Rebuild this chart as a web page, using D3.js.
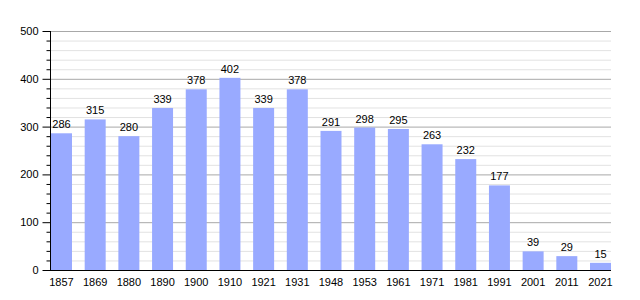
<!DOCTYPE html>
<html><head><meta charset="utf-8">
<script src="https://cdn.jsdelivr.net/npm/d3@7"></script>
<style>body{margin:0;background:#fff}svg{display:block}text{font-family:"Liberation Sans",Arial,sans-serif;font-size:11px;fill:#000}</style>
</head><body><svg width="640" height="300"></svg>
<script>
const years = ["1857","1869","1880","1890","1900","1910","1921","1931","1948","1953","1961","1971","1981","1991","2001","2011","2021"];
const population = [286,315,280,339,378,402,339,378,291,298,295,263,232,177,39,29,15];
const yTicks = [0,100,200,300,400,500];

const svg = d3.select("svg");
const x0 = 50, x1 = 611, yTop = 31, yBot = 270;
const x = d3.scaleBand().domain(years).range([51, 611]).paddingInner(0.377).paddingOuter(0);
const y = d3.scaleLinear().domain([0, 500]).range([yBot, yTop]);

const minor = d3.range(0, 501, 20).filter(v => v % 100 !== 0);
svg.append("g").selectAll("line").data(minor).join("line")
  .attr("x1", x0).attr("x2", x1).attr("y1", d => y(d) + 0.5).attr("y2", d => y(d) + 0.5)
  .attr("stroke", "#e2e2e2").attr("stroke-width", 1);
svg.append("g").selectAll("line").data(yTicks.filter(v => v > 0)).join("line")
  .attr("x1", x0).attr("x2", x1).attr("y1", d => y(d) + 0.5).attr("y2", d => y(d) + 0.5)
  .attr("stroke", "#a8a8a8").attr("stroke-width", 1);

svg.append("g").selectAll("rect").data(population).join("rect")
  .attr("x", (d, i) => x(years[i])).attr("width", x.bandwidth())
  .attr("y", d => y(d)).attr("height", d => yBot - y(d))
  .attr("fill", "#99aaff");

svg.append("g").selectAll("text").data(population).join("text")
  .attr("x", (d, i) => x(years[i]) + x.bandwidth() / 2).attr("y", d => y(d) - 5)
  .attr("text-anchor", "middle").text(d => d);

// y axis
const yAxis = svg.append("g").attr("transform", `translate(${x0 + 0.5},0)`);
yAxis.append("line").attr("x1", 0).attr("x2", 0).attr("y1", yTop).attr("y2", yBot).attr("stroke", "#000");
yAxis.selectAll(".mi").data(minor).join("line").attr("class", "mi")
  .attr("x1", -4).attr("x2", 0).attr("y1", d => y(d) + 0.5).attr("y2", d => y(d) + 0.5).attr("stroke", "#000");
yAxis.selectAll(".ma").data(yTicks).join("line").attr("class", "ma")
  .attr("x1", -8).attr("x2", 0).attr("y1", d => y(d) + 0.5).attr("y2", d => y(d) + 0.5).attr("stroke", "#000");
yAxis.selectAll("text").data(yTicks).join("text")
  .attr("x", -12).attr("y", d => y(d) + 4).attr("text-anchor", "end").text(d => d);

// x axis
svg.append("line").attr("x1", x0).attr("x2", x1).attr("y1", yBot + 0.5).attr("y2", yBot + 0.5).attr("stroke", "#000");
svg.append("g").selectAll("text").data(years).join("text")
  .attr("x", d => x(d) + x.bandwidth() / 2).attr("y", 286).attr("text-anchor", "middle").text(d => d);
</script></body></html>
